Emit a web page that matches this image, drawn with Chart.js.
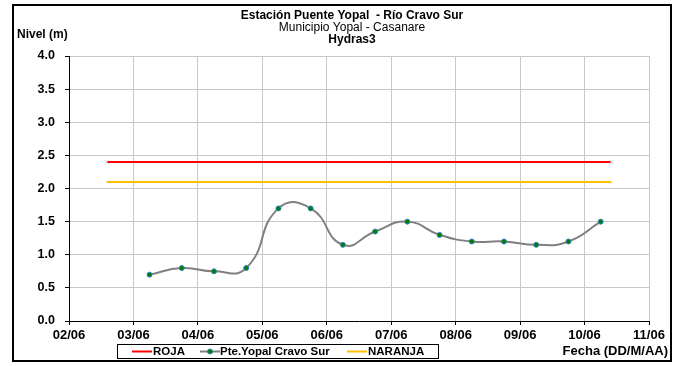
<!DOCTYPE html>
<html>
<head>
<meta charset="utf-8">
<script src="https://cdn.jsdelivr.net/npm/chart.js@4"></script>
<style>
  body { margin: 0; background: #fff; }
  canvas { display: block; }
</style>
</head>
<body>
<canvas id="grafica" width="679" height="366"></canvas>
<script>
// datos
const etiquetasX = ['02/06', '03/06', '04/06', '05/06', '06/06', '07/06', '08/06', '09/06', '10/06', '11/06'];
const fechas = ['03/06 06:00', '03/06 18:00', '04/06 06:00', '04/06 18:00', '05/06 06:00', '05/06 18:00',
                '06/06 06:00', '06/06 18:00', '07/06 06:00', '07/06 18:00', '08/06 06:00', '08/06 18:00',
                '09/06 06:00', '09/06 18:00', '10/06 06:00'];
const niveles = [0.7, 0.8, 0.75, 0.8, 1.7, 1.7, 1.15, 1.35, 1.5, 1.3, 1.2, 1.2, 1.15, 1.2, 1.5];
const umbralFechas = ['02/06 14:00', '10/06 10:00'];
const roja = [2.4, 2.4];
const naranja = [2.1, 2.1];

// '03/06 06:00' -> 3.25 (dia del mes con fraccion)
function aDia(s) {
    var p = s.split(' ');
    var d = parseInt(p[0].split('/')[0], 10);
    var hm = p[1].split(':');
    return d + (parseInt(hm[0], 10) + parseInt(hm[1], 10) / 60) / 24;
}
function puntos(xs, ys) {
    return xs.map(function (x, i) { return { x: aDia(x), y: ys[i] }; });
}

const fuente = '"Liberation Sans", Arial, sans-serif';

// titulos, leyenda y marco dibujados a mano
const extras = {
    id: 'extras',
    afterDraw: function (chart) {
        var c = chart.ctx;
        c.save();
        c.fillStyle = '#000';
        c.textAlign = 'center';
        c.textBaseline = 'middle';
        c.font = 'bold 12px ' + fuente;
        c.fillText('Estación Puente Yopal  - Río Cravo Sur', 352, 16);
        c.font = '12px ' + fuente;
        c.fillText('Municipio Yopal - Casanare', 352, 28);
        c.font = 'bold 12px ' + fuente;
        c.fillText('Hydras3', 352, 40);

        c.textAlign = 'left';
        c.font = 'bold 12px ' + fuente;
        c.fillText('Nivel (m)', 17, 35);

        c.textAlign = 'right';
        c.font = 'bold 13px ' + fuente;
        c.fillText('Fecha (DD/M/AA)', 668, 351);

        // leyenda
        c.strokeStyle = '#000';
        c.lineWidth = 1;
        c.strokeRect(117.5, 344.5, 321, 14);
        var ly = 351.5;
        c.lineWidth = 2;
        c.strokeStyle = '#ff0000';
        c.beginPath(); c.moveTo(132, ly); c.lineTo(152, ly); c.stroke();
        c.strokeStyle = '#808080';
        c.beginPath(); c.moveTo(200, ly); c.lineTo(220, ly); c.stroke();
        c.fillStyle = '#008000';
        c.strokeStyle = '#3a7fc0';
        c.lineWidth = 1;
        c.beginPath(); c.arc(210, ly, 2.5, 0, Math.PI * 2); c.fill(); c.stroke();
        c.lineWidth = 2;
        c.strokeStyle = '#ffc000';
        c.beginPath(); c.moveTo(347, ly); c.lineTo(367, ly); c.stroke();
        c.fillStyle = '#000';
        c.textAlign = 'left';
        c.font = 'bold 11.5px ' + fuente;
        c.fillText('ROJA', 153, ly);
        c.fillText('Pte.Yopal Cravo Sur', 220, ly);
        c.fillText('NARANJA', 368, ly);

        // marco exterior
        c.strokeStyle = '#000';
        c.lineWidth = 2;
        c.strokeRect(13, 5, 658, 356);
        c.restore();
    }
};

new Chart(document.getElementById('grafica'), {
    type: 'line',
    data: {
        datasets: [
            {
                label: 'ROJA',
                data: puntos(umbralFechas, roja),
                borderColor: '#ff0000',
                borderWidth: 2,
                pointStyle: 'crossRot',
                pointRadius: 3,
                pointBorderColor: '#d0d0e0',
                pointBorderWidth: 1,
                tension: 0
            },
            {
                label: 'Pte.Yopal Cravo Sur',
                data: puntos(fechas, niveles),
                borderColor: '#808080',
                borderWidth: 2,
                pointRadius: 2.5,
                pointBackgroundColor: '#008000',
                pointBorderColor: '#3a7fc0',
                pointBorderWidth: 1,
                tension: 0.5
            },
            {
                label: 'NARANJA',
                data: puntos(umbralFechas, naranja),
                borderColor: '#ffc000',
                borderWidth: 2,
                pointRadius: 0,
                tension: 0
            }
        ]
    },
    options: {
        responsive: false,
        animation: false,
        layout: { padding: { left: 0, right: 30, top: 56, bottom: 0 } },
        plugins: {
            legend: { display: false },
            title: { display: false },
            tooltip: { enabled: false }
        },
        scales: {
            x: {
                type: 'linear',
                min: 2,
                max: 11,
                afterFit: function (s) { s.height = 45; },
                ticks: {
                    stepSize: 1,
                    color: '#000',
                    padding: 3,
                    maxRotation: 0,
                    font: { family: fuente, size: 13, weight: 'bold' },
                    callback: function (v) { return etiquetasX[v - 2]; }
                },
                grid: { color: '#c8c8c8', lineWidth: 1, tickColor: '#000', tickLength: 4 },
                border: { color: '#000', width: 1 }
            },
            y: {
                min: 0,
                max: 4,
                afterFit: function (s) { s.width = 69; },
                ticks: {
                    stepSize: 0.5,
                    color: '#000',
                    padding: 10,
                    font: { family: fuente, size: 12.5, weight: 'bold' },
                    callback: function (v) { return v.toFixed(1); }
                },
                grid: { color: '#c8c8c8', lineWidth: 1, tickColor: '#000', tickLength: 4 },
                border: { color: '#000', width: 1 }
            }
        }
    },
    plugins: [extras]
});
</script>
</body>
</html>
